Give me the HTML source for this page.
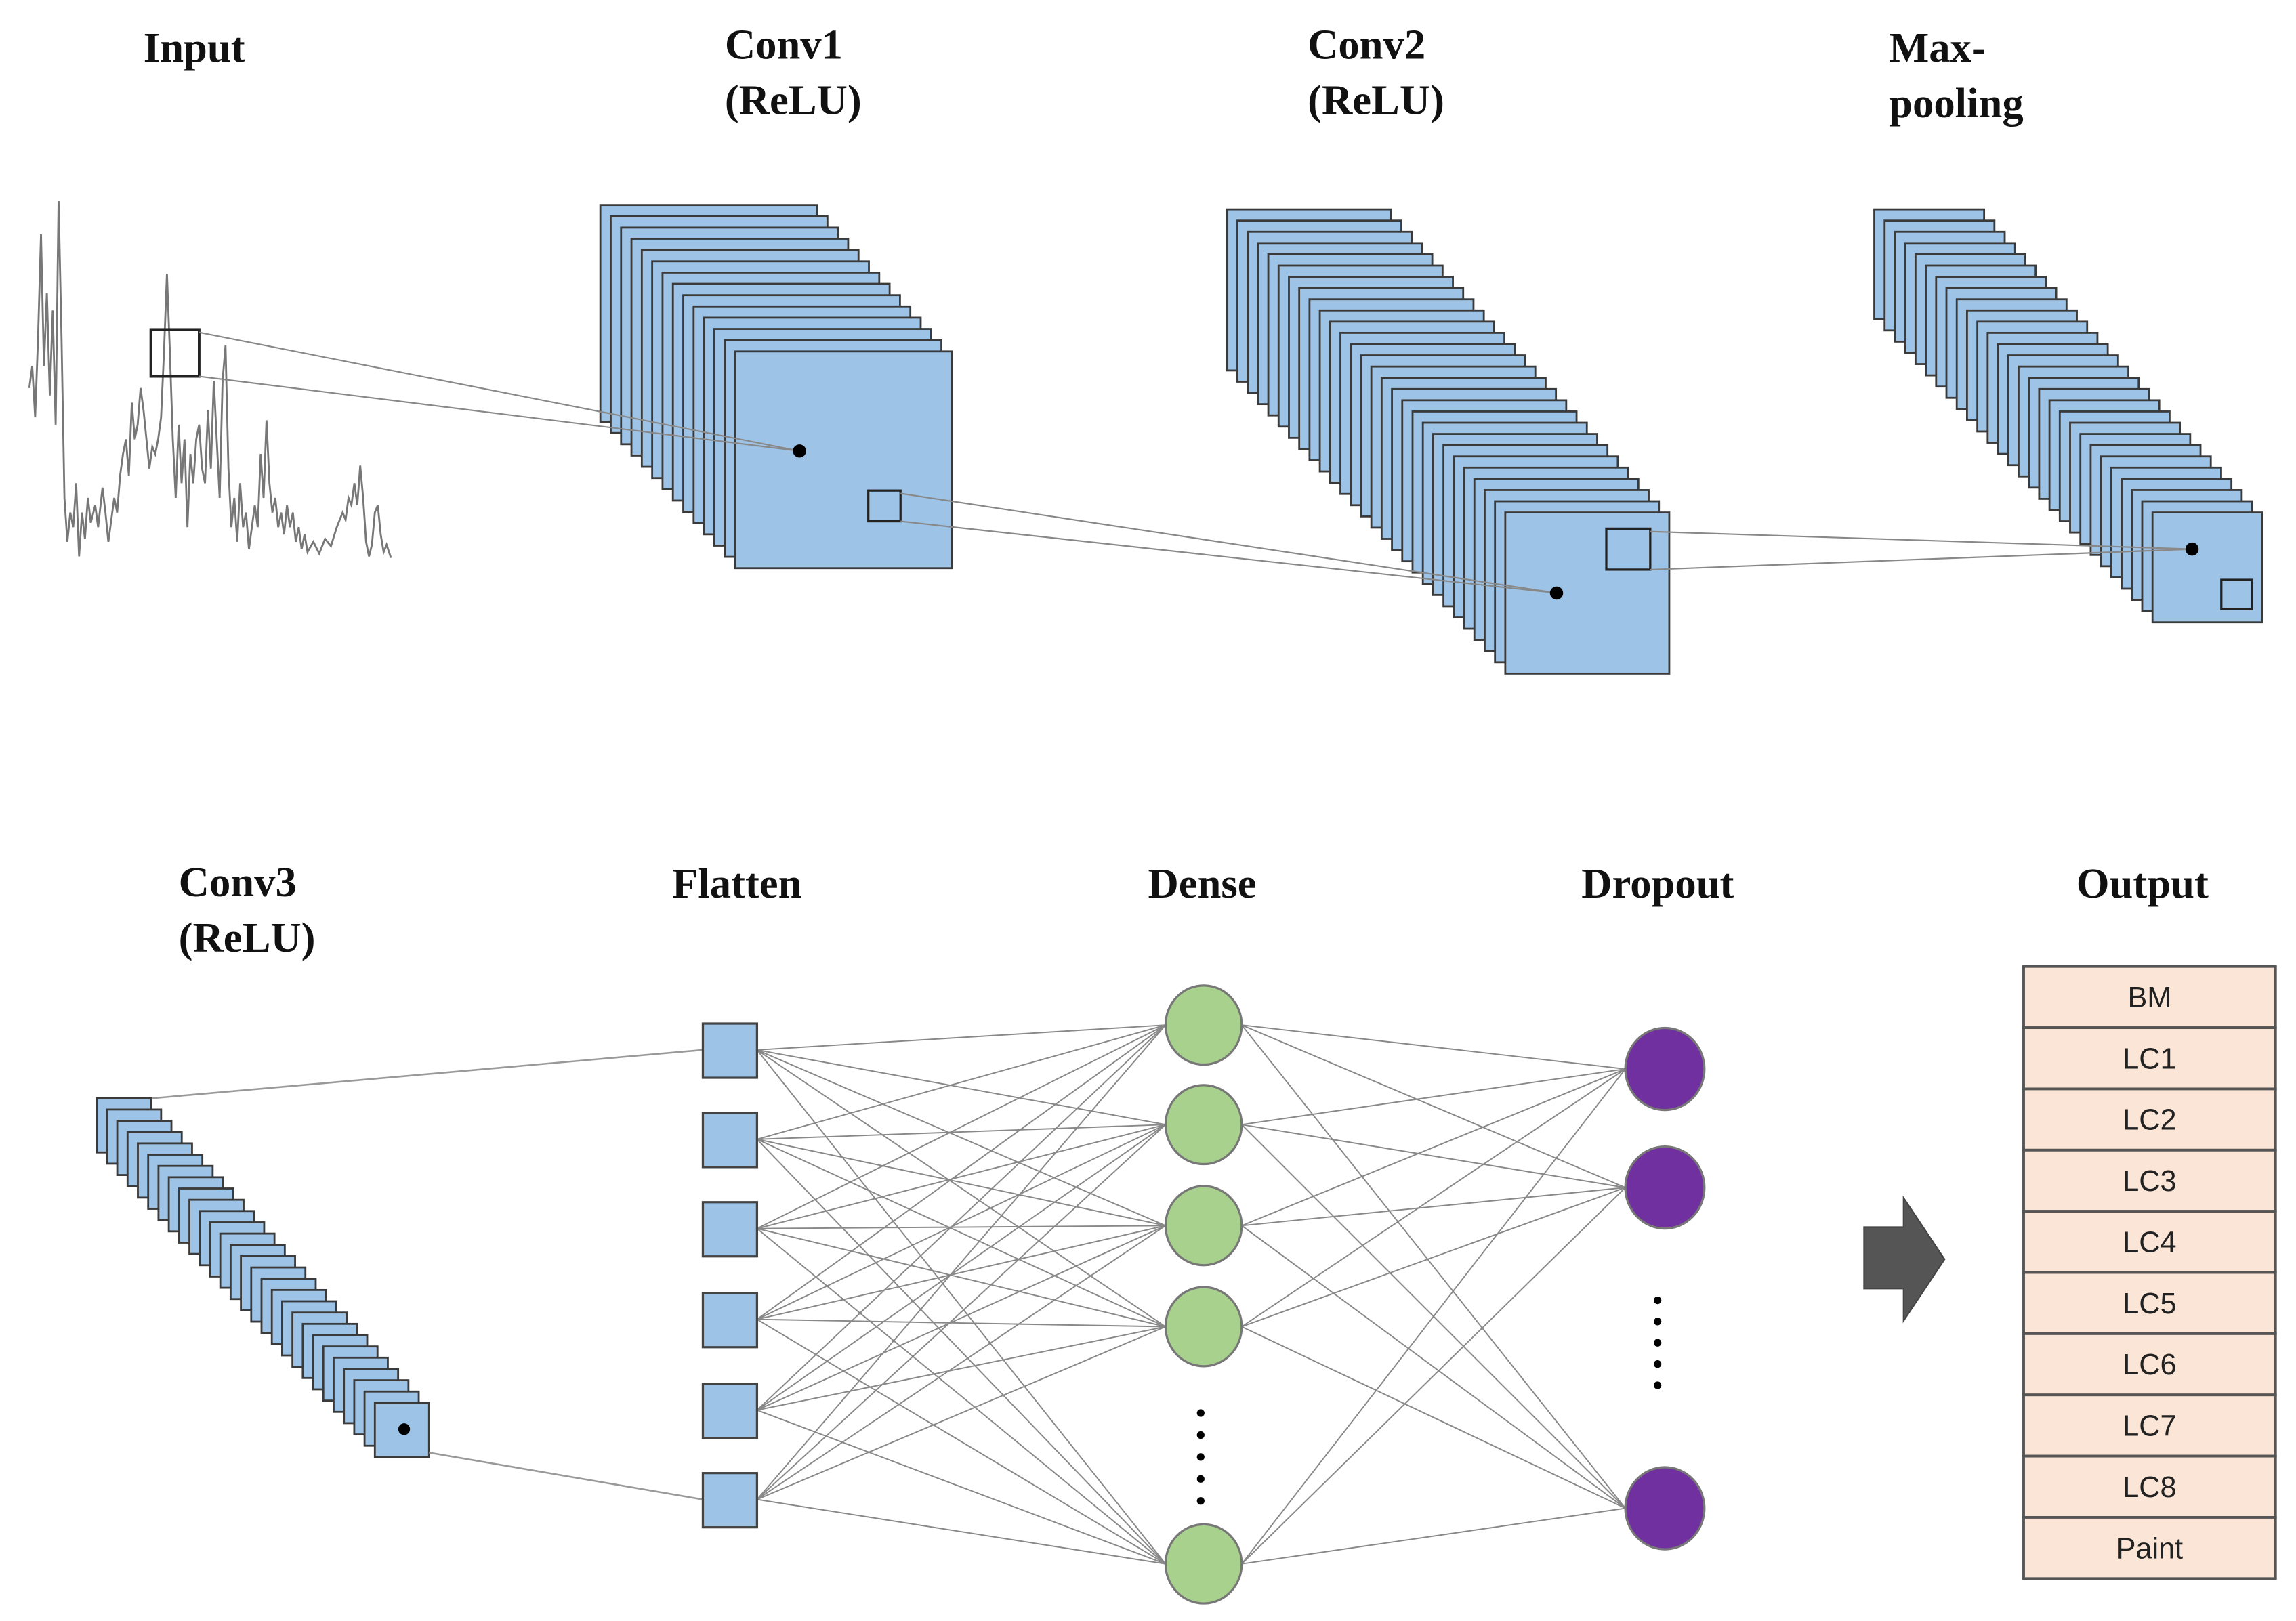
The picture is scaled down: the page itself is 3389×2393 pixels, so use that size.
<!DOCTYPE html>
<html><head><meta charset="utf-8"><style>
html,body{margin:0;padding:0;background:#fff;}
svg{display:block;}
.t{font-family:"Liberation Serif",serif;font-weight:bold;font-size:29px;fill:#111;}
.o{font-family:"Liberation Sans",sans-serif;font-size:20px;fill:#222;text-anchor:middle;}
</style></head><body>
<svg id="s" width="3389" height="2393" viewBox="0 0 1568 1107" preserveAspectRatio="none" xmlns="http://www.w3.org/2000/svg">
<rect width="1568" height="1107" fill="#fff"/>
<text class="t" x="98" y="42">Input</text>
<text class="t" x="495" y="40">Conv1</text><text class="t" x="495" y="78">(ReLU)</text>
<text class="t" x="893" y="40">Conv2</text><text class="t" x="893" y="78">(ReLU)</text>
<text class="t" x="1290" y="42">Max-</text><text class="t" x="1290" y="80">pooling</text>
<text class="t" x="122" y="612">Conv3</text><text class="t" x="122" y="650">(ReLU)</text>
<text class="t" x="459" y="613">Flatten</text>
<text class="t" x="784" y="613">Dense</text>
<text class="t" x="1080" y="613">Dropout</text>
<text class="t" x="1418" y="613">Output</text>
<polyline fill="none" stroke="#777" stroke-width="1.3" points="20,265 22,250 24,285 26,230 28,160 30,250 32,200 34,270 36,212 38,290 40,137 42,230 44,340 46,370 48,350 50,360 52,330 54,380 56,350 58,368 60,340 62,357 65,345 67,360 70,333 72,350 74,370 76,355 78,340 80,350 82,325 84,310 86,300 88,325 90,275 92,300 94,290 96,265 98,280 100,300 102,320 104,305 106,310 108,300 110,285 112,240 114,187 116,240 118,300 120,340 122,290 124,330 126,300 128,360 130,310 132,330 134,300 136,290 138,320 140,330 142,280 144,320 146,260 148,300 150,340 152,260 154,236 156,320 158,360 160,340 162,370 164,330 166,360 168,350 170,375 172,360 174,345 176,360 178,310 180,340 182,287 184,330 186,350 188,340 190,360 192,350 194,365 196,345 198,360 200,350 202,370 204,360 206,375 208,365 210,377 214,370 218,378 222,368 226,373 230,360 234,350 236,355 238,340 240,345 242,330 244,345 246,318 248,340 250,370 252,380 254,372 256,350 258,345 260,365 262,377 264,372 267,381"/>
<rect x="103" y="225" width="33" height="32" fill="none" stroke="#222" stroke-width="1.8"/>
<g id="g1"></g>
<g id="net"></g>
<path d="M1273,838 H1300 V818 L1328,860 L1300,902 V880 H1273 Z" fill="#555" stroke="#444" stroke-width="1"/>
<g id="tbl"></g>
</svg>
<script>
var NS="http://www.w3.org/2000/svg";
function el(p,t,a){var e=document.createElementNS(NS,t);for(var k in a)e.setAttribute(k,a[k]);p.appendChild(e);return e;}
var g=document.getElementById('g1');
function stack(x0,y0,x1,y1,w,h,n){for(var i=0;i<n;i++){var f=i/(n-1);el(g,'rect',{x:x0+(x1-x0)*f,y:y0+(y1-y0)*f,width:w,height:h,fill:'#9dc3e6',stroke:'#3a3a3a','stroke-width':1.3});}}
stack(410,140,502,240,148,148,14);
stack(838,143,1028,350,112,110,28);
stack(1280,143,1470,350,75,75,28);
stack(66,750,256,958,37,37,28);
function ln(a,b,c,d,w,col){el(g,'line',{x1:a,y1:b,x2:c,y2:d,stroke:col||'#888','stroke-width':w||1});}
function dot(x,y,r){el(g,'circle',{cx:x,cy:y,r:r||4.5,fill:'#000'});}
ln(136,227,546,308);ln(136,257,546,308);dot(546,308);
el(g,'rect',{x:593,y:335,width:22,height:21,fill:'none',stroke:'#222','stroke-width':1.5});
ln(615,337,1063,405);ln(615,356,1063,405);dot(1063,405);
el(g,'rect',{x:1097,y:361,width:30,height:28,fill:'none',stroke:'#222','stroke-width':1.5});
ln(1127,363,1497,375);ln(1127,389,1497,375);dot(1497,375);
el(g,'rect',{x:1517,y:396,width:21,height:20,fill:'none',stroke:'#222','stroke-width':1.5});
dot(276,976,4);
var n=document.getElementById('net');
var fy=[717,778,839,901,963,1024],dy=[700,768,837,906,1068],oy=[730,811,1030];
el(n,'line',{x1:104,y1:750,x2:480,y2:717,stroke:'#999','stroke-width':1.2});
el(n,'line',{x1:293,y1:992,x2:480,y2:1024,stroke:'#999','stroke-width':1.2});
fy.forEach(function(a){dy.forEach(function(b){el(n,'line',{x1:517,y1:a,x2:796,y2:b,stroke:'#888','stroke-width':0.9});});});
dy.forEach(function(a){oy.forEach(function(b){el(n,'line',{x1:848,y1:a,x2:1110,y2:b,stroke:'#888','stroke-width':0.9});});});
fy.forEach(function(a){el(n,'rect',{x:480,y:a-18,width:37,height:37,fill:'#9dc3e6',stroke:'#444','stroke-width':1.5});});
dy.forEach(function(a){el(n,'ellipse',{cx:822,cy:a,rx:26,ry:27,fill:'#a9d18e',stroke:'#777','stroke-width':1.5});});
oy.forEach(function(a){el(n,'ellipse',{cx:1137,cy:a,rx:27,ry:28,fill:'#7030a0',stroke:'#777','stroke-width':1.5});});
for(var i=0;i<5;i++){el(n,'circle',{cx:820,cy:965+i*15,r:2.6,fill:'#000'});el(n,'circle',{cx:1132,cy:888+i*14.5,r:2.6,fill:'#000'});}
var t=document.getElementById('tbl');
var labs=['BM','LC1','LC2','LC3','LC4','LC5','LC6','LC7','LC8','Paint'];
var h=(1078-660)/10;
labs.forEach(function(s,i){el(t,'rect',{x:1382,y:660+i*h,width:172,height:h,fill:'#fbe5d6',stroke:'#555','stroke-width':1.8});
var tx=el(t,'text',{x:1468,y:660+i*h+h/2+7,'class':'o'});tx.textContent=s;});
</script>
</body></html>
